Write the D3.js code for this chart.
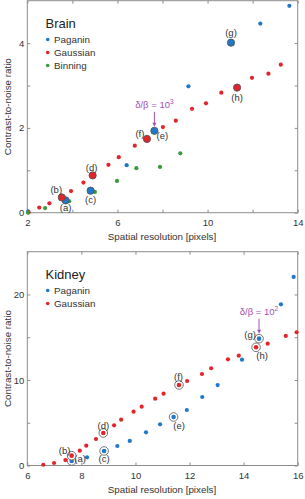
<!DOCTYPE html>
<html>
<head>
<meta charset="utf-8">
<script src="https://cdn.jsdelivr.net/npm/d3@7/dist/d3.min.js"></script>
<style>
  body { margin: 0; background: #fff; }
  svg { display: block; font-family: "Liberation Sans", Arial, sans-serif; }
  .tick text { fill: #333; font-size: 9.5px; }
  .tick line { stroke: #8c8c8c; }
  .domain { display: none; }
</style>
</head>
<body>
<script>
// ---- data ----
var brainPaganin = [[2.04,0.03],[3.70,0.29],[4.81,0.52],[6.41,1.12],[7.64,1.93],[9.15,2.98],[11.04,4.01],[12.34,4.46],[13.63,4.88]];
var brainGaussian = [[2.06,0.01],[2.53,0.12],[2.98,0.22],[3.53,0.36],[3.94,0.51],[4.49,0.71],[4.90,0.88],[5.60,1.13],[6.06,1.31],[6.77,1.58],[7.31,1.74],[8.02,2.02],[8.59,2.17],[9.31,2.45],[9.93,2.58],[10.61,2.83],[11.31,2.95],[11.97,3.18],[12.70,3.28],[13.25,3.49]];
var brainBinning = [[2.03,0.0],[2.79,0.11],[3.86,0.27],[5.00,0.49],[5.98,0.75],[6.84,1.05],[7.89,1.08],[8.79,1.40]];

var kidneyPaganin = [[7.64,0.53],[8.21,0.96],[8.84,1.70],[9.33,2.28],[9.79,2.87],[10.39,3.88],[10.91,4.82],[11.41,5.67],[11.90,6.49],[12.47,8.01],[13.04,9.40],[13.94,12.37],[14.57,14.83],[15.38,18.85],[15.85,22.05]];
var kidneyGaussian = [[6.59,0.09],[6.99,0.29],[7.41,0.64],[7.64,1.15],[7.94,1.73],[8.18,2.32],[8.54,3.10],[8.81,3.80],[9.21,4.70],[9.47,5.36],[9.93,6.29],[10.23,6.88],[10.73,7.81],[11.04,8.40],[11.61,9.42],[11.91,9.88],[12.46,10.70],[12.80,11.37],[13.42,12.42],[13.82,12.84],[14.46,13.82],[14.89,14.25],[15.56,15.15],[15.96,15.58]];

// highlighted points: [label, series, index]
var brainMarked = [["a","Paganin",1],["b","Gaussian",3],["c","Paganin",2],["d","Gaussian",6],["e","Paganin",4],["f","Gaussian",10],["g","Paganin",6],["h","Gaussian",16]];
var kidneyMarked = [["a","Paganin",0],["b","Gaussian",3],["c","Paganin",2],["d","Gaussian",7],["e","Paganin",7],["f","Gaussian",14],["g","Paganin",12],["h","Gaussian",20]];

var brainXTicks = [2,4,6,8,10,12,14], brainXLabels = [2,6,10,14];
var brainYTicks = [0,1,2,3,4], brainYLabels = [0,2,4];
var kidneyXTicks = [6,8,10,12,14,16], kidneyXLabels = [6,8,10,12,14,16];
var kidneyYTicks = [0,5,10,15,20], kidneyYLabels = [0,10,20];

var colors = {Paganin: "#1f78c8", Gaussian: "#e3242b", Binning: "#3c9a3c"};
var purple = "#a550b5";

var W = 305, H = 499;
var svg = d3.select("body").append("svg").attr("width", W).attr("height", H);

function panel(opt) {
  var x = d3.scaleLinear().domain(opt.xDomain).range([27.3, 297.7]);
  var y = d3.scaleLinear().domain(opt.yDomain).range([opt.bottom, opt.top]);
  var g = svg.append("g");

  // inward ticks on all four sides
  g.append("g").attr("transform", "translate(0," + opt.bottom + ")")
    .call(d3.axisBottom(x).tickValues(opt.xTicks).tickSize(-3).tickPadding(7)
      .tickFormat(function(d) { return opt.xLabels.indexOf(d) >= 0 ? d : ""; }));
  g.append("g").attr("transform", "translate(0," + opt.top + ")")
    .call(d3.axisTop(x).tickValues(opt.xTicks).tickSize(-3).tickFormat(""));
  g.append("g").attr("transform", "translate(27.3,0)")
    .call(d3.axisLeft(y).tickValues(opt.yTicks).tickSize(-3).tickPadding(3)
      .tickFormat(function(d) { return opt.yLabels.indexOf(d) >= 0 ? d : ""; }));
  g.append("g").attr("transform", "translate(297.7,0)")
    .call(d3.axisRight(y).tickValues(opt.yTicks).tickSize(-3).tickFormat(""));

  g.append("rect")
    .attr("x", x.range()[0]).attr("y", opt.top)
    .attr("width", x.range()[1] - x.range()[0]).attr("height", opt.bottom - opt.top)
    .attr("fill", "none").attr("stroke", "#8c8c8c").attr("stroke-width", 1);

  // axis labels
  g.append("text").attr("x", 162).attr("y", opt.bottom + 27)
    .attr("text-anchor", "middle").attr("font-size", 9.8).attr("fill", "#333")
    .text("Spatial resolution [pixels]");
  g.append("text")
    .attr("transform", "translate(11," + ((opt.top + opt.bottom) / 2) + ") rotate(-90)")
    .attr("text-anchor", "middle").attr("font-size", 9.8).attr("fill", "#333")
    .text("Contrast-to-noise ratio");

  // points
  var marked = {};
  opt.marked.forEach(function(m) { marked[m[1] + m[2]] = m[0]; });
  opt.series.forEach(function(s) {
    g.selectAll(null).data(s.data.filter(function(d, i) { return !marked[s.name + i]; }))
      .enter().append("circle")
      .attr("cx", function(d) { return x(d[0]); })
      .attr("cy", function(d) { return y(d[1]); })
      .attr("r", 2.1).attr("fill", colors[s.name]);
  });

  // highlighted points + letters
  var byName = {};
  opt.series.forEach(function(s) { byName[s.name] = s.data; });
  opt.marked.forEach(function(m) {
    var d = byName[m[1]][m[2]];
    var px = x(d[0]), py = y(d[1]);
    if (opt.ring) {
      g.append("circle").attr("cx", px).attr("cy", py).attr("r", 4.3)
        .attr("fill", "#fff").attr("stroke", "#666").attr("stroke-width", 0.9);
      g.append("circle").attr("cx", px).attr("cy", py).attr("r", 2.3).attr("fill", colors[m[1]]);
    } else {
      g.append("circle").attr("cx", px).attr("cy", py).attr("r", 3.6)
        .attr("fill", colors[m[1]]).attr("stroke", "#555").attr("stroke-width", 0.9);
    }
    var off = opt.offsets[m[0]];
    g.append("text").attr("x", px + off[0]).attr("y", py + off[1])
      .attr("text-anchor", "middle").attr("dominant-baseline", "central")
      .attr("font-size", 9.5).attr("fill", "#333").text("(" + m[0] + ")");
  });

  // δ/β annotation pointing at (g)'s neighbour
  var a = byName[opt.arrow.series][opt.arrow.index];
  var ax = x(a[0]), ay = y(a[1]);
  var t = g.append("text").attr("x", ax).attr("y", ay - opt.arrow.gap - 19)
    .attr("text-anchor", "middle").attr("font-size", 9.5).attr("fill", purple);
  t.append("tspan").text("δ/β = 10");
  t.append("tspan").attr("dy", -4).attr("font-size", 6.5).text(opt.arrow.exp);
  g.append("line").attr("x1", ax).attr("x2", ax)
    .attr("y1", ay - opt.arrow.gap - 15).attr("y2", ay - opt.arrow.gap - 3)
    .attr("stroke", purple).attr("stroke-width", 1);
  g.append("path")
    .attr("d", "M" + (ax - 2) + "," + (ay - opt.arrow.gap - 4) + "L" + (ax + 2) + "," + (ay - opt.arrow.gap - 4) + "L" + ax + "," + (ay - opt.arrow.gap))
    .attr("fill", purple);

  // legend
  g.append("text").attr("x", 45.5).attr("y", opt.top + 27.5)
    .attr("font-size", 13).attr("fill", "#222").text(opt.title);
  opt.series.forEach(function(s, i) {
    var ly = opt.top + 38.8 + i * 13;
    g.append("circle").attr("cx", 47.7).attr("cy", ly).attr("r", 1.8).attr("fill", colors[s.name]);
    g.append("text").attr("x", 54).attr("y", ly).attr("dominant-baseline", "central")
      .attr("font-size", 9.8).attr("fill", "#333").text(s.name);
  });
}

panel({
  title: "Brain", top: 0.7, bottom: 212.7, xDomain: [2, 14], yDomain: [0, 5],
  xTicks: brainXTicks, xLabels: brainXLabels, yTicks: brainYTicks, yLabels: brainYLabels,
  series: [{name: "Paganin", data: brainPaganin}, {name: "Gaussian", data: brainGaussian}, {name: "Binning", data: brainBinning}],
  marked: brainMarked, ring: false,
  offsets: {a: [0, 7.5], b: [-5.5, -8], c: [0, 8.5], d: [-1, -7.5], e: [8, 4.5], f: [-7, -5], g: [0, -10], h: [0, 9.5]},
  arrow: {series: "Paganin", index: 4, gap: 4, exp: "3"}
});

panel({
  title: "Kidney", top: 251.7, bottom: 465.5, xDomain: [6, 16], yDomain: [0, 25],
  xTicks: kidneyXTicks, xLabels: kidneyXLabels, yTicks: kidneyYTicks, yLabels: kidneyYLabels,
  series: [{name: "Paganin", data: kidneyPaganin}, {name: "Gaussian", data: kidneyGaussian}],
  marked: kidneyMarked, ring: true,
  offsets: {a: [8.5, -2.5], b: [-7, -5], c: [0, 7.5], d: [0, -7.5], e: [5.5, 8.5], f: [-0.5, -8], g: [-9, -4], h: [6, 8.5]},
  arrow: {series: "Paganin", index: 12, gap: 5, exp: "2"}
});
</script>
</body>
</html>
